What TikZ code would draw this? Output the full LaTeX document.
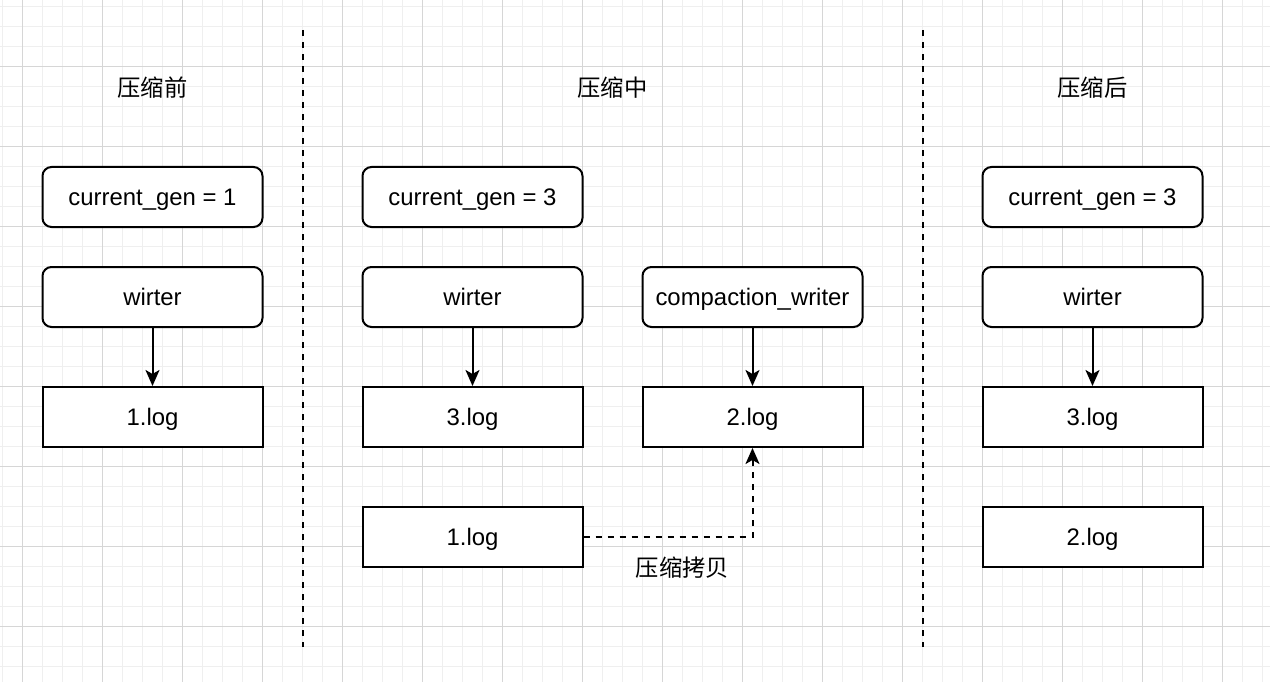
\documentclass[tikz,border=0pt]{standalone}
\usepackage{fontspec}
\setmainfont{Liberation Sans}
\newfontfamily\cjk{Noto Sans CJK SC}
\usetikzlibrary{arrows.meta}
\definecolor{gridminor}{HTML}{EFEFEF}
\definecolor{gridmajor}{HTML}{D6D6D6}
\begin{document}
\begin{tikzpicture}[x=1pt,y=-1pt,
  rbox/.style={draw=black, line width=2pt, rounded corners=9pt, minimum width=220pt, minimum height=60pt, inner sep=0pt, text height=17pt, text depth=0pt, font=\fontsize{23.9}{28}\selectfont, fill=white},
  sbox/.style={rbox, rounded corners=0pt},
  ttl/.style={font=\cjk\fontsize{23.3}{28}\selectfont, inner sep=0pt},
  arr/.style={line width=2pt, -{Stealth[length=16pt,width=14pt,inset=4pt]}},
  sepline/.style={line width=2pt, dash pattern=on 6pt off 6pt},
  minorline/.style={draw=gridminor, line width=1pt},
  majorline/.style={draw=gridmajor, line width=1pt}
]
\fill[white] (0,0) rectangle (1270,682);
\useasboundingbox (0,0) rectangle (1270,682);
% grid
\foreach \i in {0,...,63} \draw[minorline] (2.5+20*\i,0) -- (2.5+20*\i,682);
\foreach \j in {0,...,33} \draw[minorline] (0,6.5+20*\j) -- (1270,6.5+20*\j);
\foreach \i in {0,...,15} \draw[majorline] (22.5+80*\i,0) -- (22.5+80*\i,682);
\foreach \j in {0,...,8} \draw[majorline] (0,66.5+80*\j) -- (1270,66.5+80*\j);

% separators
\coordinate (s1t) at (302.5,30);
\coordinate (s1b) at (302.5,647);
\coordinate (s2t) at (922.5,30);
\coordinate (s2b) at (922.5,647);
\draw[sepline] (s1t) -- (s1b);
\draw[sepline] (s2t) -- (s2b);

% titles
\node[ttl] (t1) at (152.5,88) {压缩前};
\node[ttl] (t2) at (612.5,88) {压缩中};
\node[ttl] (t3) at (1092.5,88) {压缩后};

% column 1
\node[rbox] (g1) at (152.5,197) {current\_gen = 1};
\node[rbox] (w1) at (152.5,297) {wirter};
\node[sbox] (l1) at (152.5,417) {1.log};

% column 2
\node[rbox] (g2) at (472.5,197) {current\_gen = 3};
\node[rbox] (w2) at (472.5,297) {wirter};
\node[sbox] (l3) at (472.5,417) {3.log};
\node[sbox] (l1b) at (472.5,537) {1.log};
\node[rbox] (cw) at (752.5,297) {compaction\_writer};
\node[sbox] (l2) at (752.5,417) {2.log};

% column 3
\node[rbox] (g3) at (1092.5,197) {current\_gen = 3};
\node[rbox] (w3) at (1092.5,297) {wirter};
\node[sbox] (l3c) at (1092.5,417) {3.log};
\node[sbox] (l2c) at (1092.5,537) {2.log};

% arrows
\draw[arr] (w1) -- (l1);
\draw[arr] (w2) -- (l3);
\draw[arr] (cw) -- (l2);
\draw[arr] (w3) -- (l3c);
\draw[arr, dash pattern=on 6pt off 6pt] (l1b.east) -| (l2.south);
\node[ttl] (cp) at (682.5,568) {压缩拷贝};
\end{tikzpicture}
\end{document}
